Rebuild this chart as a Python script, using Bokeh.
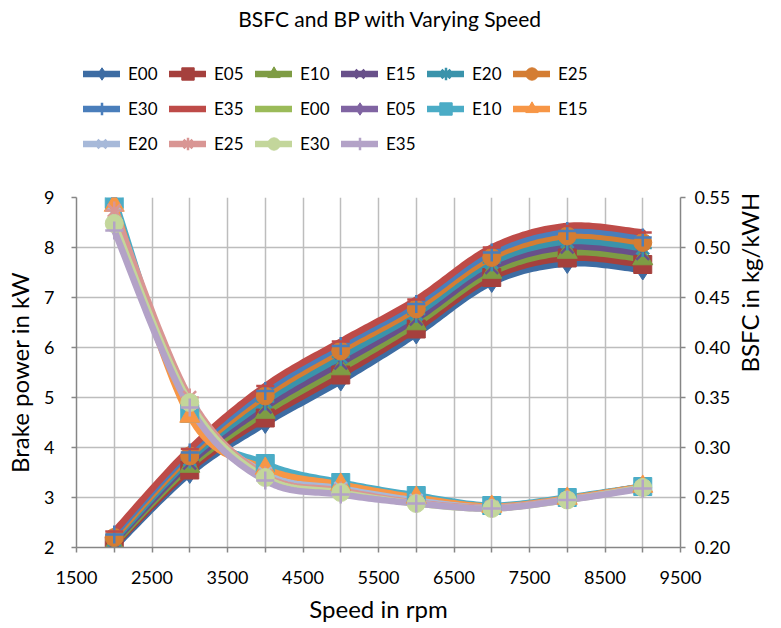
import math
import numpy as np
from bokeh.plotting import figure
from bokeh.layouts import column
from bokeh.models import (Range1d, LinearAxis, FixedTicker, NumeralTickFormatter,
                          Legend, LegendItem, Label, ColumnDataSource)
from bokeh.embed import file_html
from bokeh.resources import INLINE

# ---------------- data ----------------
speed = [2000, 3000, 4000, 5000, 6000, 7000, 8000, 9000]
blends = ["E00", "E05", "E10", "E15", "E20", "E25", "E30", "E35"]

# Brake power (kW), primary axis
bp_E00 = [2.00, 3.48, 4.48, 5.33, 6.27, 7.30, 7.68, 7.55]
bp_E05 = [2.04, 3.55, 4.59, 5.45, 6.37, 7.40, 7.79, 7.66]
bp_E10 = [2.07, 3.62, 4.70, 5.57, 6.47, 7.50, 7.90, 7.77]
bp_E15 = [2.11, 3.69, 4.81, 5.69, 6.57, 7.60, 8.01, 7.88]
bp_E20 = [2.15, 3.76, 4.92, 5.81, 6.67, 7.70, 8.12, 7.99]
bp_E25 = [2.20, 3.83, 5.03, 5.93, 6.77, 7.80, 8.23, 8.10]
bp_E30 = [2.26, 3.90, 5.13, 6.03, 6.87, 7.90, 8.33, 8.20]
bp_E35 = [2.32, 3.97, 5.23, 6.12, 6.96, 8.00, 8.43, 8.30]

# BSFC (kg/kWh), secondary axis
bsfc_E00 = [0.540, 0.338, 0.280, 0.263, 0.250, 0.241, 0.249, 0.261]
bsfc_E05 = [0.544, 0.336, 0.282, 0.264, 0.251, 0.241, 0.249, 0.261]
bsfc_E10 = [0.548, 0.334, 0.284, 0.265, 0.252, 0.242, 0.250, 0.261]
bsfc_E15 = [0.542, 0.331, 0.279, 0.263, 0.250, 0.241, 0.249, 0.261]
bsfc_E20 = [0.533, 0.345, 0.274, 0.259, 0.247, 0.240, 0.248, 0.260]
bsfc_E25 = [0.537, 0.350, 0.272, 0.257, 0.245, 0.240, 0.248, 0.260]
bsfc_E30 = [0.524, 0.345, 0.270, 0.255, 0.244, 0.239, 0.2475, 0.260]
bsfc_E35 = [0.517, 0.340, 0.267, 0.253, 0.244, 0.239, 0.2475, 0.259]

x_ticks = [1500, 2500, 3500, 4500, 5500, 6500, 7500, 8500, 9500]
x_minor = [2000, 3000, 4000, 5000, 6000, 7000, 8000, 9000]
bp_ticks = [2, 3, 4, 5, 6, 7, 8, 9]
bsfc_ticks = [0.20, 0.25, 0.30, 0.35, 0.40, 0.45, 0.50, 0.55]

bp_series = [bp_E00, bp_E05, bp_E10, bp_E15, bp_E20, bp_E25, bp_E30, bp_E35]
bsfc_series = [bsfc_E00, bsfc_E05, bsfc_E10, bsfc_E15, bsfc_E20, bsfc_E25, bsfc_E30, bsfc_E35]

bp_colors = ["#3D6CA3", "#A5403D", "#7E9C44", "#68508A", "#3A93AB", "#D47D33", "#4A7EBB", "#BE4B48"]
bsfc_colors = ["#9BBB59", "#8064A2", "#4BACC6", "#F79646", "#A7B9D9", "#D99694", "#C3D69B", "#B3A2C7"]
bp_markers = ["diamond", "square", "triangle", "x", "asterisk", "circle", "cross", "dash"]
bsfc_markers = ["dash", "diamond", "square", "triangle", "x", "asterisk", "circle", "cross"]

FONT = "Lato"
LW = 6.5
MS = 18


def smooth(xs, ys, n=24):
    """Bezier smoothing through the points (Catmull-Rom style, like a spreadsheet smoothed line)."""
    P = np.column_stack([np.asarray(xs, float), np.asarray(ys, float)])
    out = []
    m = len(P)
    for i in range(m - 1):
        p0 = P[i - 1] if i > 0 else P[i]
        p1 = P[i]
        p2 = P[i + 1]
        p3 = P[i + 2] if i + 2 < m else P[i + 1]
        c1 = p1 + (p2 - p0) / 6.0
        c2 = p2 - (p3 - p1) / 6.0
        t = np.linspace(0, 1, n, endpoint=(i == m - 2))[:, None]
        seg = ((1 - t) ** 3) * p1 + 3 * ((1 - t) ** 2) * t * c1 + 3 * (1 - t) * t ** 2 * c2 + t ** 3 * p2
        out.append(seg)
    pts = np.vstack(out)
    return pts[:, 0], pts[:, 1]


def marker_style(mk):
    lw = 2.5 if mk in ("x", "asterisk", "cross", "dash") else 1
    size = MS + 2 if mk in ("diamond", "triangle") else MS
    return lw, size


FRAME_LEFT = 76   # frames of the two stacked figures are aligned

# ---------------- header figure: title + legend ----------------
TOP_H = 177
# the same series are drawn here, but outside the visible y range; only the legend shows
top = figure(width=781, height=TOP_H, output_backend="svg", toolbar_location=None,
             x_range=Range1d(1500, 9500), y_range=Range1d(100, 101),
             x_axis_type=None, y_axis_type=None,
             min_border_left=0, min_border_right=0, min_border_top=0, min_border_bottom=0)
top.outline_line_color = None
top.xgrid.visible = False
top.ygrid.visible = False

items = []
for group, group_colors, group_markers in [(bp_series, bp_colors, bp_markers),
                                           (bsfc_series, bsfc_colors, bsfc_markers)]:
    for name, vals, col, mk in zip(blends, group, group_colors, group_markers):
        lw, size = marker_style(mk)
        lr = top.line(x=speed, y=vals, line_color=col, line_width=LW, line_cap="round")
        mr = top.scatter(x=speed, y=vals, marker=mk, size=size, fill_color=col,
                         line_color=col, line_width=lw)
        items.append(LegendItem(label=name, renderers=[lr, mr]))

legend = Legend(items=items, location=(83 - FRAME_LEFT, TOP_H - 159), orientation="horizontal",
                ncols=6, glyph_width=37, glyph_height=31, label_height=31, label_width=37,
                label_standoff=8, spacing=4, padding=0, margin=0,
                border_line_color=None, background_fill_alpha=0,
                label_text_font=FONT, label_text_font_size="17px",
                label_text_color="#000000", label_text_baseline="middle")
top.add_layout(legend, "center")

title = Label(x=390 - FRAME_LEFT, y=TOP_H - 18, x_units="screen", y_units="screen",
              text="BSFC and BP with Varying Speed", text_align="center",
              text_baseline="middle", text_font=FONT, text_font_size="21px",
              text_color="#000000")
top.add_layout(title)

# ---------------- main chart ----------------
MAIN_H = 628 - TOP_H
p = figure(width=781, height=MAIN_H, output_backend="svg", toolbar_location=None,
           x_range=Range1d(1500, 9500), y_range=Range1d(2, 9),
           min_border_left=FRAME_LEFT, min_border_right=98, min_border_top=197 - TOP_H,
           min_border_bottom=81)
p.extra_y_ranges = {"bsfc": Range1d(0.20, 0.55)}
p.outline_line_color = None

AX = "#868686"
GRID = "#BDBDBD"

p.xaxis.ticker = FixedTicker(ticks=x_ticks, minor_ticks=x_minor)
p.xaxis.axis_label = "Speed in rpm"
p.yaxis.ticker = FixedTicker(ticks=bp_ticks)
p.yaxis.axis_label = "Brake power in kW"

right = LinearAxis(y_range_name="bsfc", axis_label="BSFC in kg/kWH",
                   ticker=FixedTicker(ticks=bsfc_ticks),
                   formatter=NumeralTickFormatter(format="0.00"))
p.add_layout(right, "right")

for ax in [p.xaxis[0], p.yaxis[0], right]:
    ax.axis_line_color = AX
    ax.axis_line_width = 1.5
    ax.major_tick_line_color = AX
    ax.major_tick_line_width = 1.5
    ax.major_tick_in = 0
    ax.major_tick_out = 5
    ax.minor_tick_line_color = AX
    ax.minor_tick_line_width = 1.5
    ax.minor_tick_in = 0
    ax.minor_tick_out = 5 if ax is p.xaxis[0] else 0
    ax.major_label_text_font = FONT
    ax.major_label_text_font_size = "18px"
    ax.major_label_text_color = "#000000"
    ax.axis_label_text_font = FONT
    ax.axis_label_text_font_size = "24px"
    ax.axis_label_text_font_style = "normal"
    ax.axis_label_text_color = "#000000"

p.xaxis.major_label_standoff = 18
p.xaxis.axis_label_standoff = 7
p.yaxis.major_label_standoff = 17
p.yaxis.axis_label_standoff = 7
right.major_label_standoff = 9
right.axis_label_standoff = 16
right.axis_label_orientation = math.pi / 2

p.xgrid.grid_line_color = GRID
p.xgrid.grid_line_width = 1.5
p.xgrid.minor_grid_line_color = GRID
p.xgrid.minor_grid_line_width = 1.5
p.ygrid.grid_line_color = GRID
p.ygrid.grid_line_width = 1.5


def add_group(series, colors, markers, yname):
    kw = {} if yname is None else {"y_range_name": yname}
    for vals, col in zip(series, colors):
        sx, sy = smooth(speed, vals)
        p.line(sx, sy, line_color=col, line_width=LW, line_cap="round", line_join="round", **kw)
    for vals, col, mk in zip(series, colors, markers):
        lw, size = marker_style(mk)
        src = ColumnDataSource(dict(x=speed, y=vals))
        p.scatter("x", "y", source=src, marker=mk, size=size, fill_color=col,
                  line_color=col, line_width=lw, **kw)


add_group(bp_series, bp_colors, bp_markers, None)
add_group(bsfc_series, bsfc_colors, bsfc_markers, "bsfc")

layout = column(top, p, spacing=0)
open("out.html", "w").write(file_html(layout, INLINE))
